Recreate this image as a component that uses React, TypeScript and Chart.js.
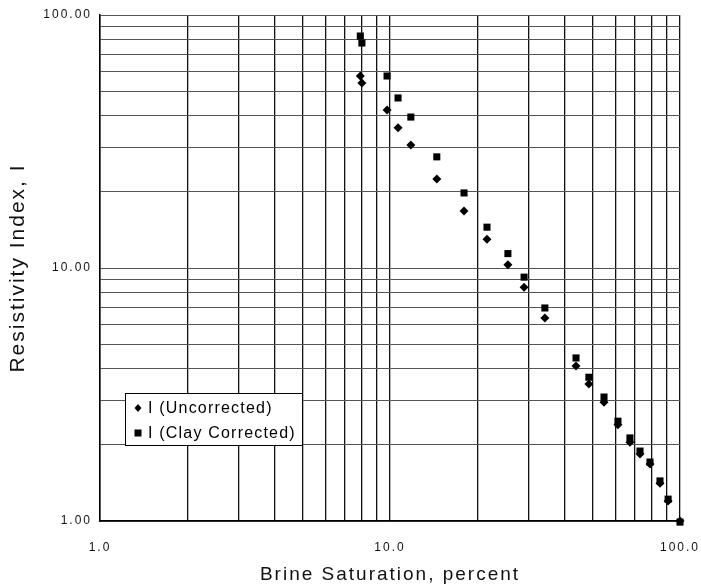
import React, { useEffect, useRef } from "react";
import { Chart, registerables } from "chart.js";

Chart.register(...registerables);

// Brine saturation (percent) for each sample
const saturationUncorrected = [7.9, 8.0, 9.77, 10.66, 11.8, 14.5, 18.0, 21.6, 25.5, 29.0, 34.2, 43.8, 48.5, 54.7, 61.1, 67.2, 72.8, 78.8, 85.3, 91.0, 100];
const indexUncorrected = [57.4, 53.8, 42.1, 35.8, 30.6, 22.5, 16.8, 13.0, 10.3, 8.4, 6.35, 4.1, 3.48, 2.95, 2.4, 2.05, 1.84, 1.68, 1.41, 1.2, 1.0];

const saturationCorrected = [7.9, 8.0, 9.77, 10.66, 11.8, 14.5, 18.0, 21.6, 25.5, 29.0, 34.2, 43.8, 48.5, 54.7, 61.1, 67.2, 72.8, 78.8, 85.3, 91.0, 100];
const indexCorrected = [82.6, 77.5, 57.4, 47.0, 39.5, 27.5, 19.8, 14.5, 11.4, 9.2, 6.95, 4.41, 3.7, 3.09, 2.48, 2.13, 1.89, 1.71, 1.44, 1.22, 0.99];

const xTickValues = [1, 2, 3, 4, 5, 6, 7, 8, 9, 10, 20, 30, 40, 50, 60, 70, 80, 90, 100];
const yTickValues = [1, 2, 3, 4, 5, 6, 7, 8, 9, 10, 20, 30, 40, 50, 60, 70, 80, 90, 100];
const xLabeledTicks = [1, 10, 100];
const xLabelTexts = ["1.0", "10.0", "100.0"];
const yLabeledTicks = [1, 10, 100];
const yLabelTexts = ["1.00", "10.00", "100.00"];

const seriesNames = ["I (Uncorrected)", "I (Clay Corrected)"];
const xTitle = "Brine Saturation, percent";
const yTitle = "Resistivity Index, I";

const FONT = '"Liberation Sans", Arial, Helvetica, sans-serif';

const spacingPlugin = {
  id: "spacing",
  beforeLayout(chart: any) {
    chart.ctx.letterSpacing = "2px";
  },
  beforeDraw(chart: any) {
    chart.ctx.letterSpacing = "2px";
  },
};

const legendPlugin = {
  id: "insideLegend",
  afterDraw(chart: any) {
    const { ctx, chartArea } = chart;
    const x0 = chartArea.left + 25;
    const y0 = chartArea.top + 378;
    const w = 177;
    const h = 52;
    ctx.save();
    ctx.fillStyle = "#ffffff";
    ctx.fillRect(x0, y0, w, h);
    ctx.strokeStyle = "#000";
    ctx.lineWidth = 1;
    ctx.strokeRect(x0 + 0.5, y0 + 0.5, w, h);
    ctx.font = "16px " + FONT;
    ctx.fillStyle = "#000";
    ctx.textBaseline = "middle";
    ctx.textAlign = "left";
    ctx.letterSpacing = "1.2px";
    chart.data.datasets.forEach((ds: any, i: number) => {
      const cy = y0 + 15 + i * 25;
      const mx = x0 + 13;
      ctx.beginPath();
      if (ds.pointStyle === "rectRot") {
        ctx.moveTo(mx, cy - 4);
        ctx.lineTo(mx + 3.5, cy);
        ctx.lineTo(mx, cy + 4);
        ctx.lineTo(mx - 3.5, cy);
        ctx.closePath();
      } else {
        ctx.rect(mx - 3.5, cy - 3.5, 7, 7);
      }
      ctx.fill();
      ctx.fillText(ds.label, x0 + 23, cy + 1);
    });
    ctx.restore();
  },
};

export default function App() {
  const ref = useRef<HTMLCanvasElement | null>(null);

  useEffect(() => {
    if (!ref.current) return;
    const chart = new Chart(ref.current, {
      type: "scatter",
      data: {
        datasets: [
          {
            label: seriesNames[0],
            data: saturationUncorrected.map((x, i) => ({ x, y: indexUncorrected[i] })),
            pointStyle: "rectRot",
            pointRadius: 4.5,
            backgroundColor: "#000",
            borderColor: "#000",
            borderWidth: 0,
            clip: false,
          },
          {
            label: seriesNames[1],
            data: saturationCorrected.map((x, i) => ({ x, y: indexCorrected[i] })),
            pointStyle: "rect",
            pointRadius: 5,
            backgroundColor: "#000",
            borderColor: "#000",
            borderWidth: 0,
            clip: false,
          },
        ],
      },
      options: {
        animation: false,
        responsive: true,
        maintainAspectRatio: false,
        layout: { padding: { top: 15, right: 21, left: 0, bottom: 0 } },
        plugins: {
          legend: { display: false },
          tooltip: { enabled: false },
        },
        scales: {
          x: {
            type: "logarithmic",
            min: 1,
            max: 100,
            afterBuildTicks: (scale: any) => {
              scale.ticks = xTickValues.map((v) => ({ value: v }));
            },
            afterFit: (scale: any) => {
              scale.height = 67;
              scale.paddingLeft = 0;
              scale.paddingRight = 0;
            },
            ticks: {
              autoSkip: false,
              maxRotation: 0,
              minRotation: 0,
              padding: 19,
              color: "#111",
              font: { family: FONT, size: 12 },
              callback: (v: any) => {
                const idx = xLabeledTicks.indexOf(Number(v));
                return idx >= 0 ? xLabelTexts[idx] : "";
              },
            },
            grid: { color: "#111", lineWidth: 1.3, drawTicks: false },
            border: { display: true, color: "#000", width: 1.5 },
            title: {
              display: true,
              text: xTitle,
              color: "#111",
              font: { family: FONT, size: 19 },
              padding: { top: 0, bottom: 2 },
            },
          },
          y: {
            type: "logarithmic",
            min: 1,
            max: 100,
            afterBuildTicks: (scale: any) => {
              scale.ticks = yTickValues.map((v) => ({ value: v }));
            },
            afterFit: (scale: any) => {
              scale.width = 100;
              scale.paddingTop = 0;
              scale.paddingBottom = 0;
            },
            ticks: {
              autoSkip: false,
              padding: 8,
              color: "#111",
              font: { family: FONT, size: 12 },
              callback: (v: any) => {
                const idx = yLabeledTicks.indexOf(Number(v));
                return idx >= 0 ? yLabelTexts[idx] : "";
              },
            },
            grid: { color: "#555", lineWidth: 1, drawTicks: false },
            border: { display: true, color: "#000", width: 1.5 },
            title: {
              display: true,
              text: yTitle,
              color: "#111",
              font: { family: FONT, size: 21 },
              padding: { top: 6, bottom: 0 },
            },
          },
        },
      },
      plugins: [spacingPlugin, legendPlugin],
    } as any);
    return () => chart.destroy();
  }, []);

  return (
    <div style={{ position: "absolute", left: 0, top: 0, width: 701, height: 588, background: "#fff" }}>
      <canvas ref={ref} />
    </div>
  );
}
